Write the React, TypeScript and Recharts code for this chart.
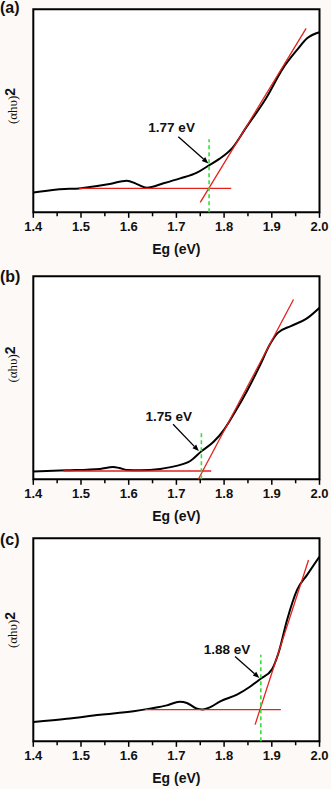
import React from 'react';
import {
  LineChart,
  Line,
  XAxis,
  YAxis,
  ReferenceLine,
  ReferenceArea,
  ReferenceDot,
  CartesianGrid,
} from 'recharts';

// ---- shared axis ticks ----
const xTicks = [1.4, 1.45, 1.5, 1.55, 1.6, 1.65, 1.7, 1.75, 1.8, 1.85, 1.9, 1.95, 2.0];

// ---- panel (a) ----
const energyA = [1.4, 1.45, 1.5, 1.56, 1.596, 1.617, 1.638, 1.673, 1.708, 1.743, 1.766, 1.79, 1.818, 1.846, 1.888, 1.923, 1.953, 1.974, 2.0];
const absorbA = [9.7, 11.2, 11.9, 13.9, 15.6, 13.9, 12.1, 14.3, 16.7, 19.5, 22.8, 26.3, 31.9, 41.7, 56.2, 70.8, 80.0, 85.7, 88.7];
const tangentA = [[1.75, 4.9], [1.972, 90.6]];
const baselineA = [[1.496, 11.8], [1.815, 11.8]];
const gapA = [[1.7685, 0], [1.7685, 36]];
const arrowA = [[1.704, 37.2], [1.767, 24.1]];
const noteA = { x: 1.69, y: 42, text: '1.77 eV' };

// ---- panel (b) ----
const energyB = [1.4, 1.47, 1.54, 1.567, 1.58, 1.596, 1.624, 1.666, 1.7, 1.729, 1.753, 1.778, 1.8, 1.82, 1.848, 1.875, 1.895, 1.912, 1.94, 1.972, 2.0];
const absorbB = [3.9, 4.4, 5.1, 6.0, 5.6, 4.6, 4.4, 5.1, 6.6, 9.0, 13.9, 18.5, 24.5, 32.0, 43.5, 56.0, 66.0, 72.0, 75.5, 79.0, 84.5];
const tangentB = [[1.746, 0], [1.9455, 88.6]];
const baselineB = [[1.463, 4.1], [1.773, 4.1]];
const gapB = [[1.7524, 0], [1.7524, 24]];
const arrowB = [[1.693, 27.1], [1.747, 13.9]];
const noteB = { x: 1.684, y: 31, text: '1.75 eV' };

// ---- panel (c) ----
const energyC = [1.4, 1.47, 1.54, 1.61, 1.644, 1.68, 1.707, 1.722, 1.742, 1.755, 1.77, 1.792, 1.827, 1.855, 1.876, 1.9, 1.914, 1.932, 1.953, 1.974, 2.0];
const absorbC = [9.5, 11.1, 13.1, 14.8, 16.1, 17.7, 19.5, 18.9, 16.2, 15.7, 16.7, 19.7, 23.0, 27.0, 30.7, 35.3, 43.5, 59.8, 74.6, 82.0, 91.0];
const tangentC = [[1.865, 8.2], [1.977, 89.3]];
const baselineC = [[1.634, 15.6], [1.919, 15.6]];
const gapC = [[1.877, 0], [1.877, 42.6]];
const arrowC = [[1.823, 41.8], [1.874, 31.2]];
const noteC = { x: 1.806, y: 45.6, text: '1.88 eV' };

const SANS = '"Liberation Sans", Arial, Helvetica, sans-serif';
const SERIF = '"Liberation Serif", "DejaVu Serif", serif';
const RED = '#e3211c';
const GREEN = '#3bdc3b';

const seg = (p: number[][]) => [
  { x: p[0][0], y: p[0][1] },
  { x: p[1][0], y: p[1][1] },
];

const TickMark = (props: any) => {
  const { x, y, payload } = props;
  const v = payload.value as number;
  const major = Math.abs(Math.round(v * 10) - v * 10) < 1e-6;
  return (
    <g>
      <line x1={x} x2={x} y1={y} y2={y + (major ? 5.5 : 4)} stroke="#000" strokeWidth={1.5} />
      {major && (
        <text x={x} y={y + 19} textAnchor="middle" fontFamily={SANS} fontWeight="bold" fontSize={13} fill="#111">
          {v.toFixed(1)}
        </text>
      )}
    </g>
  );
};

const Arrow = (props: any) => {
  const { x1, y1, x2, y2 } = props;
  const ang = Math.atan2(y2 - y1, x2 - x1);
  const L = 6.5;
  const W = 2.6;
  const c = Math.cos(ang);
  const s = Math.sin(ang);
  const bx = x2 - L * c;
  const by = y2 - L * s;
  const pts = `${x2},${y2} ${bx - W * s},${by + W * c} ${bx + W * s},${by - W * c}`;
  return (
    <g>
      <line x1={x1} y1={y1} x2={bx} y2={by} stroke="#000" strokeWidth={1.3} />
      <polygon points={pts} fill="#000" />
    </g>
  );
};

type PanelProps = {
  top: number;
  letter: string;
  letterY: number;
  labelY: number;
  energy: number[];
  absorb: number[];
  tangent: number[][];
  baseline: number[][];
  gap: number[][];
  arrow: number[][];
  note: { x: number; y: number; text: string };
};

const Panel = (p: PanelProps) => {
  const data = p.energy.map((e, i) => ({ x: e, y: p.absorb[i] }));
  const lx = 17;
  const ly = p.labelY;
  return (
    <div style={{ position: 'absolute', top: p.top, left: 0, width: 331, height: 262 }}>
      <LineChart
        width={331}
        height={262}
        data={data}
        margin={{ top: 9.3, right: 11.5, left: 33.3, bottom: 9.7 }}
      >
        <CartesianGrid fill="#ffffff" stroke="none" horizontal={false} vertical={false} />
        <XAxis
          type="number"
          dataKey="x"
          domain={[1.4, 2.0]}
          ticks={xTicks}
          interval={0}
          allowDataOverflow
          axisLine={false}
          tickLine={false}
          tickSize={0}
          tickMargin={0}
          height={40}
          tick={<TickMark />}
          label={{
            content: (lp: any) => {
              const vb = lp.viewBox || { x: 33.3, y: 212.3, width: 286 };
              return (
                <text
                  x={vb.x + vb.width / 2}
                  y={vb.y + 41.7}
                  textAnchor="middle"
                  fontFamily={SANS}
                  fontWeight="bold"
                  fontSize={14}
                  fill="#111"
                >
                  Eg (eV)
                </text>
              );
            },
          }}
        />
        <YAxis type="number" domain={[0, 100]} width={0} tick={false} tickLine={false} axisLine={false} />
        <Line
          type="monotone"
          dataKey="y"
          stroke="#000"
          strokeWidth={2}
          dot={false}
          isAnimationActive={false}
        />
        <ReferenceLine segment={seg(p.baseline)} stroke={RED} strokeWidth={1.3} />
        <ReferenceLine segment={seg(p.tangent)} stroke={RED} strokeWidth={1.3} />
        <ReferenceLine segment={seg(p.gap)} stroke={GREEN} strokeWidth={1.6} strokeDasharray="4 3" />
        <ReferenceLine segment={seg(p.arrow)} shape={<Arrow />} />
        <ReferenceDot
          x={p.note.x}
          y={p.note.y}
          r={0}
          shape={(sp: any) => (
            <text
              x={sp.cx}
              y={sp.cy}
              dy={5}
              textAnchor="middle"
              fontFamily={SANS}
              fontWeight="bold"
              fontSize={13.5}
              fill="#111"
            >
              {p.note.text}
            </text>
          )}
        />
        <ReferenceArea x1={1.4} x2={2.0} y1={0} y2={100} fill="none" stroke="#000" strokeWidth={2} />
      </LineChart>
      <svg
        width={32}
        height={262}
        style={{ position: 'absolute', left: 0, top: 0, overflow: 'visible', pointerEvents: 'none' }}
      >
        <text x={0} y={p.letterY} fontFamily={SANS} fontWeight="bold" fontSize={16} fill="#111">
          {p.letter}
        </text>
        <text transform={`rotate(-90, ${lx}, ${ly})`} x={lx} y={ly} textAnchor="middle" fill="#111">
          <tspan fontFamily={SERIF} fontSize={13}>(αhυ)</tspan>
          <tspan fontFamily={SANS} fontWeight="bold" fontSize={14} dy={-2}>2</tspan>
        </text>
      </svg>
    </div>
  );
};

export default function App() {
  return (
    <div
      style={{
        position: 'absolute',
        top: 0,
        left: 0,
        width: 331,
        height: 789,
        background: '#fdf9f7',
        overflow: 'hidden',
      }}
    >
      <Panel top={0} letter="(a)" letterY={13} labelY={106} energy={energyA} absorb={absorbA} tangent={tangentA} baseline={baselineA} gap={gapA} arrow={arrowA} note={noteA} />
      <Panel top={266.7} letter="(b)" letterY={14.8} labelY={97.5} energy={energyB} absorb={absorbB} tangent={tangentB} baseline={baselineB} gap={gapB} arrow={arrowB} note={noteB} />
      <Panel top={529} letter="(c)" letterY={15.5} labelY={101} energy={energyC} absorb={absorbC} tangent={tangentC} baseline={baselineC} gap={gapC} arrow={arrowC} note={noteC} />
    </div>
  );
}
